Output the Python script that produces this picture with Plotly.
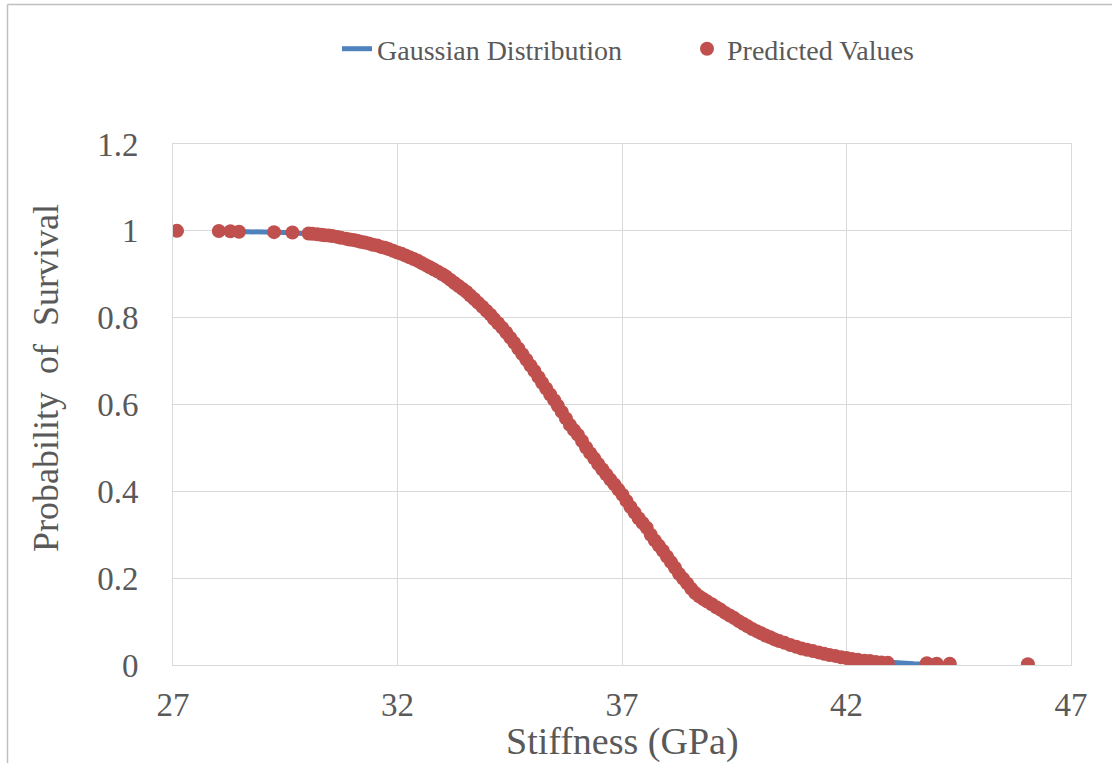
import plotly.graph_objects as go

# Gaussian distribution (survival curve)
gauss_x = [28.0, 28.5, 29.0, 29.5, 30.0, 30.5, 31.0, 31.5, 32.0, 32.5, 33.0, 33.5,
           34.0, 34.5, 35.0, 35.5, 36.0, 36.5, 37.0, 37.5, 38.0, 38.5, 39.0, 39.5,
           40.0, 40.5, 41.0, 41.5, 42.0, 42.5, 43.0, 43.5, 44.0, 44.3]
gauss_y = [0.9995, 0.999, 0.998, 0.996, 0.993, 0.988, 0.979, 0.967, 0.950, 0.928, 0.900, 0.862,
           0.815, 0.755, 0.685, 0.610, 0.535, 0.460, 0.395, 0.320, 0.250, 0.180, 0.140, 0.108,
           0.078, 0.055, 0.038, 0.026, 0.016, 0.009, 0.005, 0.003, 0.002, 0.001]

# Predicted values
pred_x = [27.09, 28.02, 28.28, 28.47, 29.25, 29.66,
          30.02, 30.10, 30.21, 30.30, 30.38, 30.47, 30.55, 30.66, 30.74, 30.85, 30.93,
          31.02, 31.10, 31.18, 31.27, 31.36, 31.45, 31.55, 31.63, 31.72, 31.80, 31.90,
          32.00, 32.09, 32.18, 32.27, 32.36, 32.45, 32.54, 32.63, 32.72, 32.81, 32.90,
          33.00, 33.09, 33.18, 33.27, 33.36, 33.45, 33.54, 33.62, 33.71, 33.80, 33.89, 33.98,
          34.07, 34.15, 34.24, 34.33, 34.42, 34.51, 34.60, 34.69, 34.78, 34.87, 34.96,
          35.05, 35.14, 35.22, 35.31, 35.40, 35.49, 35.57, 35.66, 35.75, 35.84, 35.93,
          36.02, 36.11, 36.20, 36.29, 36.38, 36.47, 36.56, 36.65, 36.74, 36.83, 36.92,
          37.01, 37.10, 37.19, 37.28, 37.37, 37.46, 37.55, 37.64, 37.73, 37.82, 37.91,
          38.00, 38.09, 38.18, 38.27, 38.36, 38.45, 38.54, 38.63, 38.72, 38.81, 38.90,
          39.00, 39.10, 39.20, 39.30, 39.40, 39.50, 39.60, 39.70, 39.80, 39.90,
          40.00, 40.10, 40.20, 40.30, 40.40, 40.50, 40.62, 40.75, 40.88,
          41.00, 41.12, 41.25, 41.38, 41.50, 41.62, 41.75, 41.88,
          42.00, 42.12, 42.25, 42.40, 42.52, 42.65, 42.78, 42.92,
          43.79, 44.01, 44.30, 46.04]
pred_y = [1.000, 0.9995, 0.999, 0.998, 0.997, 0.996,
          0.994, 0.993, 0.992, 0.991, 0.990, 0.989, 0.988, 0.986, 0.984, 0.982, 0.980,
          0.979, 0.977, 0.975, 0.973, 0.971, 0.968, 0.966, 0.963, 0.961, 0.958, 0.954,
          0.950, 0.947, 0.943, 0.939, 0.935, 0.931, 0.926, 0.921, 0.916, 0.911, 0.906,
          0.900, 0.894, 0.887, 0.880, 0.873, 0.866, 0.859, 0.851, 0.843, 0.834, 0.825, 0.816,
          0.807, 0.797, 0.787, 0.777, 0.766, 0.754, 0.742, 0.729, 0.716, 0.703, 0.690,
          0.677, 0.663, 0.650, 0.637, 0.623, 0.610, 0.597, 0.583, 0.568, 0.553, 0.541,
          0.530, 0.516, 0.501, 0.488, 0.476, 0.463, 0.451, 0.439, 0.427, 0.416, 0.404,
          0.392, 0.378, 0.364, 0.351, 0.338, 0.327, 0.316, 0.300, 0.287, 0.275, 0.263,
          0.250, 0.237, 0.224, 0.210, 0.199, 0.188, 0.176, 0.166, 0.158, 0.152, 0.146,
          0.140, 0.133, 0.127, 0.120, 0.114, 0.108, 0.101, 0.095, 0.089, 0.083,
          0.078, 0.073, 0.068, 0.064, 0.059, 0.055, 0.051, 0.046, 0.042,
          0.038, 0.035, 0.032, 0.029, 0.026, 0.023, 0.021, 0.018,
          0.016, 0.014, 0.012, 0.010, 0.009, 0.007, 0.006, 0.005,
          0.004, 0.003, 0.003, 0.002]

x_ticks = [27, 32, 37, 42, 47]
y_ticks = [0, 0.2, 0.4, 0.6, 0.8, 1.0, 1.2]
y_tick_text = ["0", "0.2", "0.4", "0.6", "0.8", "1", "1.2"]

FONT = "Liberation Serif"
GREY = "#595959"
GRID = "#D9D9D9"

fig = go.Figure()
fig.add_trace(go.Scatter(x=gauss_x, y=gauss_y, mode="lines", name="Gaussian Distribution",
                         line=dict(color="#4F81BD", width=5)))
fig.add_trace(go.Scatter(x=pred_x, y=pred_y, mode="markers", name="Predicted Values",
                         marker=dict(color="#C0504D", size=14, line=dict(width=0))))

# plot area: x 173..1071, y 144..665
L, R, T, B = 173, 1113 - 1071, 144, 763 - 665
PW, PH = 1071 - 173, 665 - 144

def px(xp):
    return (xp - L) / PW

def py(yp):
    return (665 - yp) / PH

fig.update_layout(
    width=1113, height=763,
    margin=dict(l=L, r=R, t=T, b=B, autoexpand=False),
    paper_bgcolor="white", plot_bgcolor="white",
    font=dict(family=FONT, color=GREY),
    showlegend=True,
    legend=dict(orientation="h", x=px(337), y=py(49), xanchor="left", yanchor="middle",
                font=dict(family=FONT, size=28, color=GREY),
                entrywidth=305, entrywidthmode="pixels",
                bgcolor="rgba(0,0,0,0)"),
    xaxis=dict(range=[27, 47], tickvals=x_ticks, showgrid=True, gridcolor=GRID, gridwidth=1,
               zeroline=False, showline=True, linecolor=GRID, mirror=True,
               ticks="", ticklabelstandoff=10,
               tickfont=dict(family=FONT, size=33, color=GREY)),
    yaxis=dict(range=[0, 1.2], tickvals=y_ticks, ticktext=y_tick_text, showgrid=True,
               gridcolor=GRID, gridwidth=1, zeroline=False, showline=True, linecolor=GRID,
               mirror=True, ticks="", ticklabelstandoff=27,
               tickfont=dict(family=FONT, size=33, color=GREY)),
    annotations=[
        dict(text="Stiffness (GPa)", xref="paper", yref="paper", x=px(622), y=py(741),
             xanchor="center", yanchor="middle", showarrow=False,
             font=dict(family=FONT, size=38, color=GREY)),
        dict(text="Probability  of  Survival", xref="paper", yref="paper", x=px(46), y=py(378),
             xanchor="center", yanchor="middle", showarrow=False, textangle=-90,
             font=dict(family=FONT, size=36, color=GREY)),
    ],
    shapes=[
        dict(type="line", xref="paper", yref="paper", x0=px(7.5), x1=px(1112), y0=py(4.5), y1=py(4.5),
             line=dict(color="#BFBFBF", width=1.5)),
        dict(type="line", xref="paper", yref="paper", x0=px(7.5), x1=px(7.5), y0=py(4.5), y1=py(763),
             line=dict(color="#BFBFBF", width=1.5)),
    ],
)

fig.write_html("out.html")
